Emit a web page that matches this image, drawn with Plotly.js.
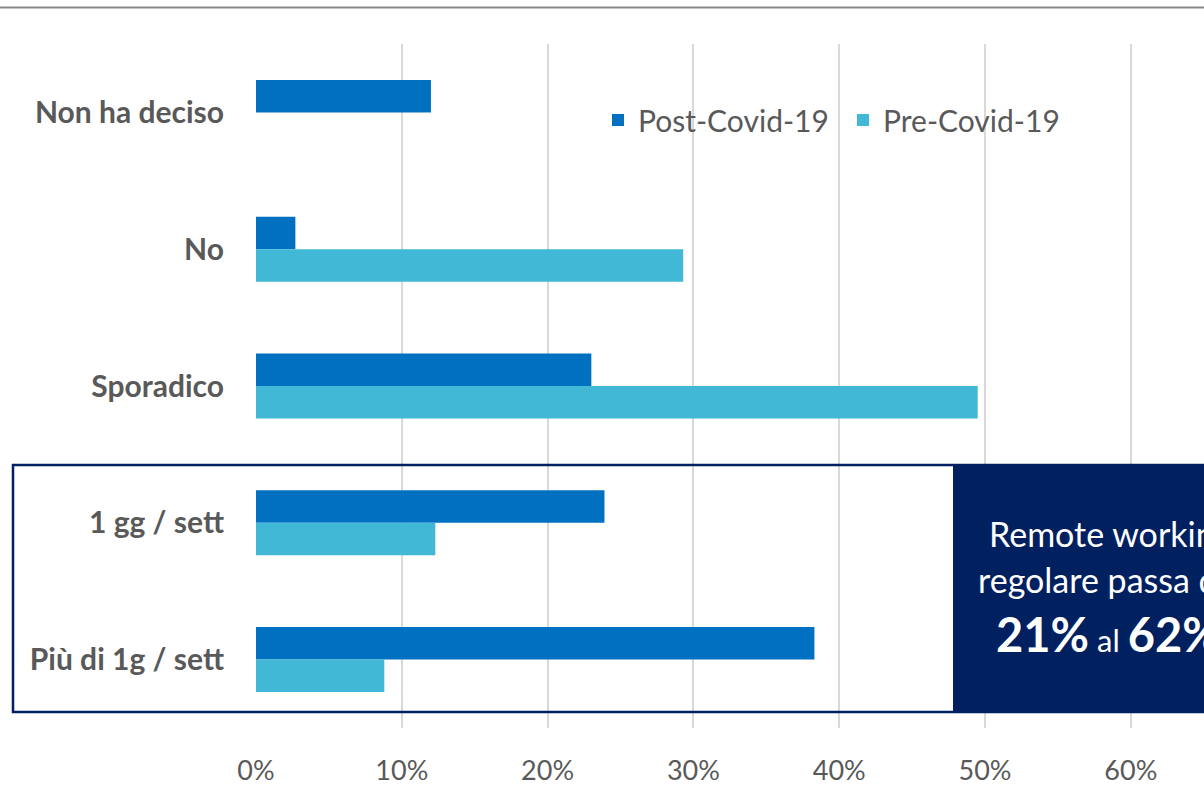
<!DOCTYPE html>
<html>
<head>
<meta charset="utf-8">
<script src="https://cdn.plot.ly/plotly-3.0.1.min.js"></script>
<style>html,body{margin:0;padding:0;background:#fff;}#chart{width:1204px;height:795px;}</style>
</head>
<body>
<div id="chart"></div>
<script>
// Data
const categories = ["Non ha deciso", "No", "Sporadico", "1 gg / sett", "Più di 1g / sett"];
const postCovid = [0.12, 0.027, 0.23, 0.239, 0.383];
const preCovid = [0, 0.293, 0.495, 0.123, 0.088];
const seriesNames = ["Post-Covid-19", "Pre-Covid-19"];
const xTickVals = [0, 0.1, 0.2, 0.3, 0.4, 0.5, 0.6];

// Layout geometry (pixels)
const W = 1204, H = 795;
const L = 256, R = 0, T = 44, B = 67;
const plotW = W - L - R, plotH = H - T - B;
const px = x => (x - L) / plotW;
const py = y => (H - B - y) / plotH;

const FONT = "Lato, 'Open Sans', sans-serif";
const GREY = "#595959";
const NAVY = "#002060";

const traces = [
  {type: "bar", orientation: "h", name: seriesNames[0], y: categories, x: postCovid,
   marker: {color: "#0070C0"}, hoverinfo: "x+y"},
  {type: "bar", orientation: "h", name: seriesNames[1], y: categories, x: preCovid,
   marker: {color: "#41B8D5"}, hoverinfo: "x+y"}
];

const layout = {
  width: W, height: H,
  margin: {l: L, r: R, t: T, b: B, pad: 0},
  paper_bgcolor: "#ffffff", plot_bgcolor: "#ffffff",
  font: {family: FONT, color: GREY},
  barmode: "group", bargap: 0.525, bargroupgap: 0,
  showlegend: true,
  legend: {orientation: "h", x: px(598), y: py(120), xanchor: "left", yanchor: "middle",
           font: {size: 30, color: GREY, family: FONT}, bgcolor: "rgba(0,0,0,0)",
           entrywidth: 200, entrywidthmode: "pixels", itemwidth: 30, traceorder: "normal"},
  xaxis: {range: [0, (W - L) / 1458], tickvals: xTickVals, tickformat: ".0%",
          showgrid: true, gridcolor: "#d9d9d9", gridwidth: 2, zeroline: false,
          showline: false, ticks: "", ticklabelstandoff: 24,
          tickfont: {size: 27, color: GREY, family: FONT}, fixedrange: true},
  yaxis: {type: "category", autorange: "reversed", showgrid: false, zeroline: false,
          showline: false, ticks: "", ticklabelstandoff: 31,
          tickfont: {size: 30, color: GREY, family: FONT, weight: "bold"}, fixedrange: true},
  shapes: [
    {type: "line", xref: "paper", yref: "paper", x0: px(0), x1: px(W), y0: py(7.5), y1: py(7.5),
     line: {color: "#888888", width: 2}},
    {type: "rect", xref: "paper", yref: "paper", layer: "above", x0: px(953), x1: px(W + 20),
     y0: py(712), y1: py(465), fillcolor: NAVY, line: {width: 0}},
    {type: "rect", xref: "paper", yref: "paper", layer: "above", x0: px(13), x1: px(W + 20),
     y0: py(712), y1: py(465), fillcolor: "rgba(0,0,0,0)", line: {color: NAVY, width: 2.5}}
  ],
  annotations: [
    {xref: "paper", yref: "paper", x: px(987), y: py(556), xanchor: "left", yanchor: "bottom",
     showarrow: false, text: "Remote working", font: {size: 34, color: "#ffffff", family: FONT}},
    {xref: "paper", yref: "paper", x: px(976), y: py(602), xanchor: "left", yanchor: "bottom",
     showarrow: false, text: "regolare passa dal", font: {size: 34, color: "#ffffff", family: FONT}},
    {xref: "paper", yref: "paper", x: px(994), y: py(664), xanchor: "left", yanchor: "bottom",
     showarrow: false, text: "<b><span style='font-size:47px'>21%</span></b> al <b><span style='font-size:47px'>62%</span></b>",
     font: {size: 31, color: "#ffffff", family: FONT}}
  ]
};

Plotly.newPlot("chart", traces, layout, {displayModeBar: false, staticPlot: true});
</script>
</body>
</html>
